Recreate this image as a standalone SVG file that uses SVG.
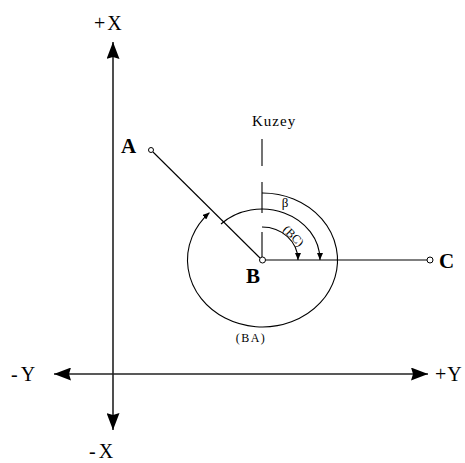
<svg xmlns="http://www.w3.org/2000/svg" width="465" height="463" viewBox="0 0 465 463">
<defs>
<style>
.axis{stroke:#222;stroke-width:1.6;fill:none}
.ln{stroke:#000;stroke-width:1.1;fill:none}
.lbl{font-family:"Liberation Serif","Times New Roman",serif;fill:#000}
.big{font-size:21px}
.pt{fill:#fff;stroke:#000;stroke-width:1}
</style>
<marker id="axisHead" viewBox="0 0 17 13" refX="17" refY="6.5" markerWidth="17" markerHeight="13" markerUnits="userSpaceOnUse" orient="auto-start-reverse">
<path d="M0,0 L17,6.5 L0,13 L2,6.5 z" fill="#000"/>
</marker>
<marker id="arcHead" viewBox="0 0 7 6" refX="7" refY="3" markerWidth="7" markerHeight="6" markerUnits="userSpaceOnUse" orient="auto">
<path d="M0,0 L7,3 L0,6 z" fill="#000"/>
</marker>
</defs>
<rect width="465" height="463" fill="#fff"/>
<g id="connectors">
<line class="axis" x1="113" y1="42" x2="113" y2="430" marker-start="url(#axisHead)" marker-end="url(#axisHead)"/>
<line class="axis" x1="54" y1="374" x2="428" y2="374" marker-start="url(#axisHead)" marker-end="url(#axisHead)"/>
<line class="ln" x1="153" y1="152" x2="260" y2="258"/>
<line class="ln" x1="265" y1="260" x2="427" y2="260"/>
<path class="ln" d="M262,139 V166 M262,182 V213 M262,232 V257"/>
<path id="arc-BA" class="ln" d="M262,193 A75,67 0 1 1 209.5,212.6" marker-end="url(#arcHead)"/>
<path id="arc-beta" class="ln" d="M221,224 A58,51 0 0 1 320,260" marker-end="url(#arcHead)"/>
<path id="arc-BC" class="ln" d="M262,227 A36,33 0 0 1 298,260" marker-end="url(#arcHead)"/>
</g>
<g id="node-A">
<circle class="pt" cx="151" cy="150" r="2.5"/>
<text class="lbl big" x="121" y="153" font-weight="bold">A</text>
</g>
<g id="node-B">
<circle class="pt" cx="262.5" cy="260" r="3"/>
<text class="lbl big" x="246" y="283" font-weight="bold">B</text>
</g>
<g id="node-C">
<circle class="pt" cx="430" cy="260" r="3"/>
<text class="lbl big" x="439" y="268" font-weight="bold">C</text>
</g>
<g id="labels">
<text class="lbl" x="94" y="30" font-size="20" letter-spacing="2">+X</text>
<text class="lbl" x="89" y="458" font-size="20" letter-spacing="3">-X</text>
<text class="lbl" x="11" y="381" font-size="20" letter-spacing="3">-Y</text>
<text class="lbl" x="435" y="381" font-size="20" letter-spacing="1">+Y</text>
<text class="lbl" x="252" y="126" font-size="15" letter-spacing="1">Kuzey</text>
<text class="lbl" x="251" y="342" font-size="12" letter-spacing="1.5" text-anchor="middle">(BA)</text>
<text class="lbl" x="285" y="207" font-size="13" text-anchor="middle">β</text>
<text class="lbl" x="0" y="0" font-size="12" text-anchor="middle" dominant-baseline="central" transform="translate(293.5,236) rotate(45)">(BC)</text>
</g>
</svg>
